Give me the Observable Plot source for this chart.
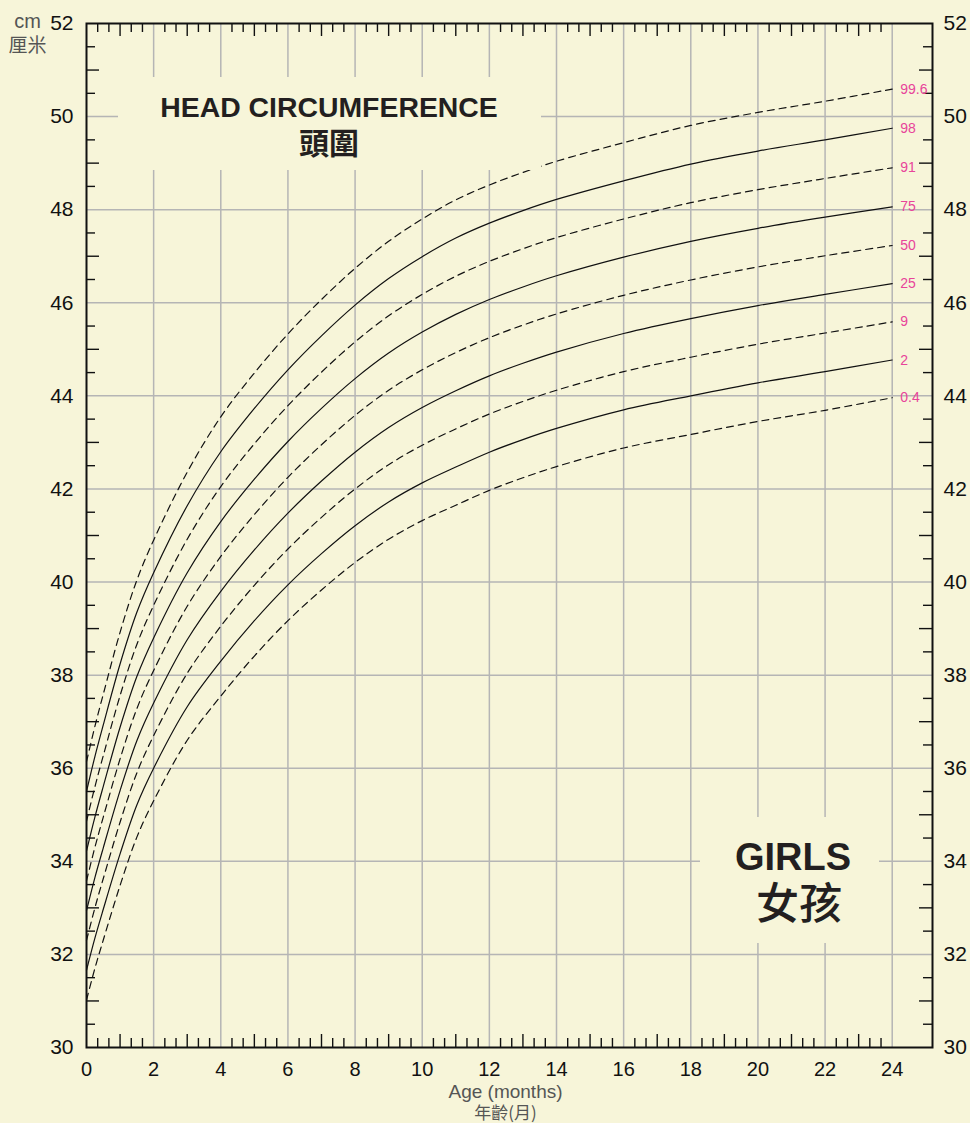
<!DOCTYPE html>
<html><head><meta charset="utf-8">
<script src="https://cdn.jsdelivr.net/npm/d3@7"></script>
<script src="https://cdn.jsdelivr.net/npm/@observablehq/plot@0.6"></script>
<style>
body{margin:0;background:#f7f5d9;}
#wrap{position:relative;width:970px;height:1123px;overflow:hidden;background:#f7f5d9;}
.box{position:absolute;background:#f7f5d9;}
.t{position:absolute;white-space:nowrap;text-align:center;color:#231f20;}
</style></head><body>
<div id="wrap">
 <div id="chart"></div>
 <div class="box" style="left:118px;top:77px;width:423px;height:93px;"></div>
 <div class="box" style="left:700px;top:817px;width:179px;height:126px;"></div>
 <div class="t" style="left:129px;width:400px;top:93px;font:bold 28.4px/28px 'Liberation Sans',Arial,sans-serif;">HEAD CIRCUMFERENCE</div>
 <div class="t" style="left:229px;width:200px;top:126px;font:bold 30px/30px 'Noto Sans CJK TC',sans-serif;">頭圍</div>
 <div class="t" style="left:693px;width:200px;top:838px;font:bold 38px/38px 'Liberation Sans',Arial,sans-serif;">GIRLS</div>
 <div class="t" style="left:699px;width:200px;top:879px;font:500 43px/43px 'Noto Sans CJK TC',sans-serif;">女孩</div>
</div>
<script>
// ---- data ----
const months = [0, 0.25, 0.5, 1, 1.5, 2, 3, 4, 5, 6, 7, 8, 9, 10, 11, 12, 13, 14, 16, 18, 20, 22, 24];
const p0_4  = [31.02, 31.70, 32.31, 33.48, 34.52, 35.30, 36.60, 37.55, 38.41, 39.17, 39.83, 40.42, 40.92, 41.32, 41.65, 41.97, 42.24, 42.48, 42.88, 43.17, 43.45, 43.69, 43.96];
const p2    = [31.66, 32.35, 32.97, 34.16, 35.21, 36.00, 37.32, 38.30, 39.17, 39.94, 40.61, 41.21, 41.72, 42.13, 42.47, 42.79, 43.06, 43.30, 43.70, 44.00, 44.28, 44.52, 44.77];
const p9    = [32.30, 33.00, 33.63, 34.84, 35.90, 36.70, 38.04, 39.05, 39.93, 40.71, 41.39, 42.00, 42.52, 42.94, 43.29, 43.61, 43.88, 44.12, 44.52, 44.83, 45.11, 45.35, 45.59];
const p25   = [32.94, 33.65, 34.29, 35.52, 36.59, 37.40, 38.76, 39.80, 40.69, 41.48, 42.17, 42.79, 43.32, 43.75, 44.11, 44.43, 44.70, 44.94, 45.34, 45.66, 45.94, 46.18, 46.41];
const p50   = [33.58, 34.30, 34.95, 36.20, 37.28, 38.10, 39.48, 40.55, 41.45, 42.25, 42.95, 43.58, 44.12, 44.56, 44.93, 45.25, 45.52, 45.76, 46.16, 46.49, 46.77, 47.01, 47.23];
const p75   = [34.22, 34.95, 35.61, 36.88, 37.97, 38.80, 40.20, 41.30, 42.21, 43.02, 43.73, 44.37, 44.92, 45.37, 45.75, 46.07, 46.34, 46.58, 46.98, 47.32, 47.60, 47.84, 48.06];
const p91   = [34.86, 35.60, 36.27, 37.56, 38.66, 39.50, 40.92, 42.05, 42.97, 43.79, 44.51, 45.16, 45.72, 46.18, 46.57, 46.89, 47.16, 47.40, 47.80, 48.15, 48.43, 48.67, 48.90];
const p98   = [35.50, 36.25, 36.93, 38.24, 39.35, 40.20, 41.64, 42.80, 43.73, 44.56, 45.29, 45.95, 46.52, 46.99, 47.39, 47.71, 47.98, 48.22, 48.62, 48.98, 49.26, 49.50, 49.75];
const p99_6 = [36.14, 36.90, 37.59, 38.92, 40.04, 40.90, 42.36, 43.55, 44.49, 45.33, 46.07, 46.74, 47.32, 47.80, 48.21, 48.53, 48.80, 49.04, 49.44, 49.81, 50.09, 50.33, 50.59];

const centileLabels = ["0.4", "2", "9", "25", "50", "75", "91", "98", "99.6"];
const centileSeries = [p0_4, p2, p9, p25, p50, p75, p91, p98, p99_6];
const dashedCentiles = ["0.4", "9", "50", "91", "99.6"];

const xTickLabels = [0, 2, 4, 6, 8, 10, 12, 14, 16, 18, 20, 22, 24];
const yTickLabels = [30, 32, 34, 36, 38, 40, 42, 44, 46, 48, 50, 52];

// ---- derived tables ----
const rows = centileLabels.flatMap((lab, k) =>
  months.map((m, i) => ({month: m, value: centileSeries[k][i], pct: lab, dashed: dashedCentiles.includes(lab)})));
const endRows = centileLabels.map((lab, k) => ({label: lab, month: months[months.length - 1], value: centileSeries[k][months.length - 1]}));

// minor ticks: every 1/3 month, longer at odd months; every 0.5 cm, longer at odd cm
const xMinorAll = d3.range(1, 72).filter(i => i % 6 !== 0);
const xShort = xMinorAll.filter(i => i % 3 !== 0).map(i => i / 3);
const xLong = xMinorAll.filter(i => i % 3 === 0).map(i => i / 3);
const yMinorAll = d3.range(61, 104).filter(i => i % 4 !== 0);
const yShort = yMinorAll.filter(i => i % 2 !== 0).map(i => i / 2);
const yLong = yMinorAll.filter(i => i % 2 === 0).map(i => i / 2);
const gridX = xTickLabels.filter(v => v > 0);
const gridY = yTickLabels.filter(v => v > 30 && v < 52);

const W = 970, H = 1123, ML = 86, MR = 38, MT = 23, MB = 76;
const FW = W - ML - MR, FH = H - MT - MB;
const ink = "#111";
const grid = "#b5b5b5";
const shortLen = 9, longLen = 13;

const chart = Plot.plot({
  width: W, height: H,
  marginLeft: ML, marginRight: MR, marginTop: MT, marginBottom: MB,
  style: {background: "#f7f5d9", color: ink, fontFamily: "'Liberation Sans', Arial, sans-serif"},
  x: {domain: [0, 25.2]},
  y: {domain: [30, 52]},
  marks: [
    Plot.ruleX(gridX, {x: d => d, stroke: grid, strokeWidth: 1.5}),
    Plot.ruleY(gridY, {y: d => d, stroke: grid, strokeWidth: 1.5}),
    // inward ticks bottom / top
    Plot.ruleX(xShort, {x: d => d, insetTop: FH - shortLen, stroke: ink, strokeWidth: 1.4}),
    Plot.ruleX(xLong, {x: d => d, insetTop: FH - longLen, stroke: ink, strokeWidth: 1.4}),
    Plot.ruleX(xShort, {x: d => d, insetBottom: FH - shortLen, stroke: ink, strokeWidth: 1.4}),
    Plot.ruleX(xLong, {x: d => d, insetBottom: FH - longLen, stroke: ink, strokeWidth: 1.4}),
    // inward ticks left / right
    Plot.ruleY(yShort, {y: d => d, insetRight: FW - shortLen, stroke: ink, strokeWidth: 1.4}),
    Plot.ruleY(yLong, {y: d => d, insetRight: FW - longLen, stroke: ink, strokeWidth: 1.4}),
    Plot.ruleY(yShort, {y: d => d, insetLeft: FW - shortLen, stroke: ink, strokeWidth: 1.4}),
    Plot.ruleY(yLong, {y: d => d, insetLeft: FW - longLen, stroke: ink, strokeWidth: 1.4}),
    // centile curves
    Plot.line(rows.filter(d => !d.dashed), {x: "month", y: "value", z: "pct", stroke: ink, strokeWidth: 1.2, curve: "catmull-rom"}),
    Plot.line(rows.filter(d => d.dashed), {x: "month", y: "value", z: "pct", stroke: ink, strokeWidth: 1.2, strokeDasharray: "7,5", curve: "catmull-rom"}),
    Plot.text(endRows, {x: "month", y: "value", text: "label", dx: 8, textAnchor: "start", fill: "#e8449a", fontSize: 14}),
    Plot.frame({stroke: ink, strokeWidth: 2}),
    Plot.axisX(xTickLabels, {anchor: "bottom", tickSize: 0, tickPadding: 14, fontSize: 20, label: null}),
    Plot.axisY(yTickLabels, {anchor: "left", tickSize: 0, tickPadding: 13, fontSize: 21, label: null}),
    Plot.axisY(yTickLabels, {anchor: "right", tickSize: 0, tickPadding: 11, fontSize: 21, label: null}),
    Plot.text(["cm"], {text: d => d, frameAnchor: "top-left", dx: -59, dy: -9.7, textAnchor: "middle", fontSize: 20, fill: "#555"}),
    Plot.text(["厘米"], {text: d => d, frameAnchor: "top-left", dx: -59, dy: 15, textAnchor: "middle", fontSize: 19, fill: "#555", fontFamily: "'Noto Sans CJK TC', sans-serif"}),
    Plot.text(["Age (months)"], {text: d => d, frameAnchor: "bottom", dx: -4, dy: 50, textAnchor: "middle", fontSize: 19, fill: "#555"}),
    Plot.text(["年齡(月)"], {text: d => d, frameAnchor: "bottom", dx: -4, dy: 71, textAnchor: "middle", fontSize: 17, fill: "#555", fontFamily: "'Noto Sans CJK TC', sans-serif"})
  ]
});
document.getElementById("chart").appendChild(chart);
</script>
</body></html>
